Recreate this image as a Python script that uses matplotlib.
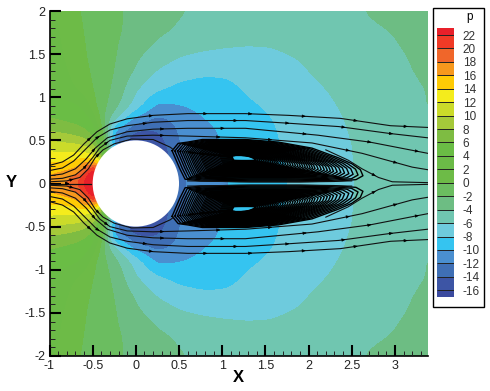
import numpy as np
import matplotlib
matplotlib.use('Agg')
import matplotlib.pyplot as plt
from matplotlib.colors import ListedColormap, BoundaryNorm
from matplotlib.patches import Circle, Rectangle
from matplotlib.ticker import MultipleLocator

plt.rcParams['font.family'] = ['Liberation Sans', 'DejaVu Sans']
plt.rcParams['axes.unicode_minus'] = False

# pressure, upper half only (the field is mirrored in y)
grid_x = [-1, -.85, -.7, -.6, -.5, -.4, -.25, 0, .25, .5, .75, 1, 1.25, 1.5, 1.75, 2, 2.25, 2.5, 2.75, 3, 3.2, 3.4]
grid_y = [0, .15, .3, .45, .6, .75, .9, 1.1, 1.3, 1.5, 1.75, 2]
p_y000 = [17, 18.2, 20, 22.5, 27, 24, 0, -8, -12, -12.5, -11, -10.2, -9.5, -8.8, -8, -7.5, -6.9, -6, -5.9, -5.5, -5.1, -4.7]
p_y015 = [15.3, 15.8, 16.5, 18.5, 24, 22, 0, -10, -14, -12.7, -11, -10.2, -9.4, -8.7, -8, -7.4, -6.8, -6, -5.8, -5.4, -5, -4.6]
p_y030 = [13, 13, 13.4, 13.8, 13, 8, -8, -16, -16, -12.5, -10.8, -10, -9.2, -8.6, -7.9, -7.3, -6.7, -6, -5.7, -5.3, -4.9, -4.5]
p_y045 = [10.8, 10.5, 10.2, 9.5, 8.5, 4, -12, -16, -15.5, -12, -11, -9.9, -9.1, -8.5, -7.8, -7.2, -6.6, -6, -5.6, -5.2, -4.8, -4.4]
p_y060 = [8, 7.6, 7, 6.4, 5.2, 1.5, -11, -14.5, -14.2, -11.8, -10.9, -9.8, -9, -8.4, -7.7, -7.1, -6.5, -5.9, -5.5, -5.1, -4.7, -4.3]
p_y075 = [6, 5.6, 5.2, 4.9, 3.8, -1.2, -5.5, -10.8, -12.5, -11.5, -10.2, -9.3, -8.7, -8.2, -7.6, -7, -6.4, -5.8, -5.4, -5, -4.6, -4.2]
p_y090 = [5, 4.6, 4.3, 3.6, .6, -1.2, -3.2, -7, -10.6, -10.1, -9.5, -8.9, -8.4, -7.9, -7.3, -6.8, -6.2, -5.6, -5.2, -4.8, -4.4, -3.9]
p_y110 = [4, 3, 2, 1, 0, -1, -2.4, -5.8, -7.6, -8.6, -8.9, -8.6, -7.9, -7.3, -6.9, -6.4, -5.9, -5.4, -5, -4.6, -4.3, -3.9]
p_y130 = [3.6, 2.4, 1.3, .5, -.3, -1, -2, -4.3, -6.2, -7.1, -7.6, -7.7, -7.5, -7.2, -6.8, -6, -5.5, -5, -4.7, -4.3, -4.05, -3.6]
p_y150 = [3.2, 2, 1, .2, -.6, -1.1, -1.8, -3.6, -4.8, -5.8, -6.2, -6.4, -6.5, -6.4, -6, -5.6, -5.1, -4.8, -4.5, -4.2, -3.9, -3.4]
p_y175 = [2.8, 1.7, .7, -.1, -.6, -1.1, -1.7, -2.6, -3.7, -4.3, -4.7, -5, -5.2, -5.3, -5.3, -5.1, -4.8, -4.6, -4.3, -3.95, -3.6, -3.2]
p_y200 = [2.5, 1.3, .3, -.3, -.7, -1.1, -1.6, -2.6, -3.1, -3.85, -4.3, -4.6, -4.8, -5, -5, -4.9, -4.7, -4.3, -3.8, -3.4, -3.1, -2.9]

levels = [-16, -14, -12, -10, -8, -6, -4, -2, 0, 2, 4, 6, 8, 10, 12, 14, 16, 18, 20, 22]
band_colors = ['#3b4a9f', '#3d55a5', '#3f6fb5', '#4a8fd0', '#35c4f0', '#6ecbdd', '#70c6b0', '#6dbd83',
               '#6bbd60', '#6dbb47', '#6bbb47', '#6abd45', '#7ebc42', '#a5c93a', '#cbdb2a', '#f4ec1c',
               '#ffcb05', '#f7981d', '#f0662a', '#f03a26', '#e8202a']

# streamlines, upper half (x, y), mirrored for the lower half
line1_x = [-1, -.85, -.72, -.6, -.45, -.3, -.1, .2, .6, 1.27, 1.77, 2.37, 2.95, 3.38]
line1_y = [.21, .25, .33, .46, .6, .69, .75, .79, .81, .81, .79, .755, .67, .65]
line2_x = [-1, -.85, -.72, -.6, -.45, -.3, -.1, .2, .6, 1.27, 1.75, 2.35, 2.94, 3.38]
line2_y = [.15, .18, .26, .38, .53, .62, .67, .71, .73, .73, .70, .66, .58, .53]
line3_x = [-1, -.85, -.7, -.58, -.47, -.33, -.1, .2, .6, 1.27, 2.11, 2.71, 3.38]
line3_y = [.09, .11, .17, .28, .41, .53, .6, .63, .64, .64, .56, .48, .35]
line4_x = [-1, -.85, -.7, -.6, -.5, -.42, -.3, -.1, .2, .6, 1.27, 2.04, 2.62, 3.2, 3.38]
line4_y = [.05, .06, .1, .18, .3, .41, .5, .55, .56, .55, .53, .47, .35, .19, .16]
line5_x = [-1, -.8, -.65, -.55, -.47, -.38, -.25, -.05, .2, .4, .45]
line5_y = [.02, .03, .07, .17, .3, .39, .46, .515, .51, .42, .38]
tail_x = [2.2, 2.46, 2.62, 2.81, 2.97, 3.38]
tail_y = [.39, .27, .17, .07, .02, .01]
front_x = [-1, -.52]
front_y = [0, 0]
core_x = [.6, 1.2, 1.9, 2.5]
core_y = [.03, .02, .02, .03]
lines = [(line1_x, line1_y), (line2_x, line2_y), (line3_x, line3_y), (line4_x, line4_y),
         (line5_x, line5_y), (tail_x, tail_y), (front_x, front_y), (core_x, core_y)]
arrows = [[-.55, .17, .8, 1.32, 1.94, 2.54, 3.12], [-.45, .1, 1.15, 1.75, 2.4, 2.95],
          [-.5, .3, 1, 1.95, 2.7, 3.25], [-.6, -.35, .3, .95, 1.55, 2.45, 3], [-.75, -.45], [2.75], [-.8], []]

# recirculation lobe: outermost loop, then how far each inner turn sits from the focus
wake_x = [.42, .49, .6, .77, 1.27, 1.65, 2.04, 2.34, 2.5, 2.6, 2.63, 2.55, 2.3, 1.9, 1.33, .75, .57, .51, .42]
wake_y = [.38, .465, .48, .51, .51, .48, .41, .30, .23, .16, .09, .045, .025, .02, .02, .03, .05, .17, .38]
wake_focus = (1.21, .30)
wake_turns = [1, .96, .92, .885, .85, .82, .79, .76, .735, .71, .685, .66, .635, .61, .59, .57, .55, .53,
              .51, .49, .47, .45, .43, .41, .39, .37, .35, .33, .31, .295, .28, .265, .25, .235, .22, .205,
              .19, .175, .16, .145, .13, .12]

x_ticks = [-1, -.5, 0, .5, 1, 1.5, 2, 2.5, 3]
x_labels = ['-1', '-0.5', '0', '0.5', '1', '1.5', '2', '2.5', '3']
y_ticks = [-2, -1.5, -1, -.5, 0, .5, 1, 1.5, 2]
y_labels = ['-2', '-1.5', '-1', '-0.5', '0', '0.5', '1', '1.5', '2']

W, H = 490, 391
fig = plt.figure(figsize=(W/100, H/100), dpi=100)
ax = fig.add_axes([49.5/W, (H-356)/H, (427.7-49.5)/W, (356-11)/H])

upper = np.array([p_y000, p_y015, p_y030, p_y045, p_y060, p_y075, p_y090, p_y110, p_y130, p_y150, p_y175, p_y200])
yy = np.array(grid_y)
Y_all = np.concatenate([-yy[:0:-1], yy])
P = np.vstack([upper[:0:-1], upper])

# resample the read grid finer and soften it so the contours do not kink at the grid lines
fine_x = np.arange(-1, 3.41, .02)
fine_y = np.arange(-2, 2.001, .02)
P_f = np.array([np.interp(fine_x, grid_x, row) for row in P])
P_f = np.array([np.interp(fine_y, Y_all, col) for col in P_f.T]).T
for _ in range(3):
    pad = np.pad(P_f, 2, mode='edge')
    k = np.ones(5)/5
    pad = np.apply_along_axis(lambda r: np.convolve(r, k, mode='same'), 0, pad)
    pad = np.apply_along_axis(lambda r: np.convolve(r, k, mode='same'), 1, pad)
    P_f = pad[2:-2, 2:-2]

cmap = ListedColormap(band_colors[1:-1])
cmap.set_under(band_colors[0])
cmap.set_over(band_colors[-1])
ax.contourf(fine_x, fine_y, P_f, levels=levels, cmap=cmap, norm=BoundaryNorm(levels, cmap.N), extend='both', antialiased=False)

# wake loops
fx, fy = wake_focus
wx, wy = np.array(wake_x), np.array(wake_y)
for s in wake_turns:
    lx = fx + s*(wx - fx)
    ly = fy + s*(wy - fy)
    for sign in (1, -1):
        ax.plot(lx, sign*ly, color='k', lw=1.0, solid_joinstyle='round', zorder=3)

for (lx, ly), arr in zip(lines, arrows):
    for sign in (1, -1):
        ly_s = sign*np.array(ly)
        ax.plot(lx, ly_s, color='#111111', lw=.8, zorder=4)
        for a in arr:
            ya = np.interp(a, lx, ly_s)
            yb = np.interp(a+.03, lx, ly_s)
            ax.annotate('', xy=(a+.03, yb), xytext=(a, ya), zorder=5,
                        arrowprops=dict(arrowstyle='-|>,head_length=.45,head_width=.18', color='k', lw=.4, shrinkA=0, shrinkB=0, mutation_scale=5))

ax.add_patch(Circle((0, 0), .5, fc='white', ec='none', zorder=6))

ax.set_xlim(-1, 3.38)
ax.set_ylim(-2, 2)
ax.set_xticks(x_ticks)
ax.set_xticklabels(x_labels)
ax.set_yticks(y_ticks)
ax.set_yticklabels(y_labels)
ax.xaxis.set_minor_locator(MultipleLocator(.1))
ax.yaxis.set_minor_locator(MultipleLocator(.1))
ax.tick_params(which='major', direction='in', length=8, width=1.5, labelsize=9, pad=3, labelcolor='#222222')
ax.tick_params(which='minor', direction='in', length=3.5, width=.7, color='#222222')
ax.spines['top'].set_visible(False)
ax.spines['right'].set_visible(False)
ax.spines['left'].set_linewidth(1.2)
ax.spines['bottom'].set_linewidth(1.2)
ax.set_axisbelow(False)

fig.text(11/W, 1-183/H, 'Y', fontsize=12, fontweight='bold', ha='center', va='center')
fig.text(238/W, 1-378/H, 'X', fontsize=12, fontweight='bold', ha='center', va='center')

# legend box
fig.add_artist(Rectangle((433.3/W, 1-306.7/H), (483.7-433.3)/W, (306.7-8)/H, transform=fig.transFigure, fc='white', ec='k', lw=1, zorder=-1))
cax = fig.add_axes([437.3/W, 1-297/H, 17/W, (297-28.3)/H])
edges = [-17] + levels + [23]
for i, c in enumerate(band_colors):
    cax.bar(0, edges[i+1]-edges[i], bottom=edges[i], width=1, color=c, edgecolor='none')
cax.hlines(levels, -.5, .5, color='#222222', lw=.7)
cax.set_xlim(-.5, .5)
cax.set_ylim(-17, 23)
cax.set_xticks([])
cax.set_yticks(levels)
cax.yaxis.tick_right()
cax.tick_params(length=0, pad=6, labelsize=8.5, labelcolor='#333333')
for sp in cax.spines.values():
    sp.set_visible(False)
fig.text(470/W, 1-17/H, 'p', fontsize=8.5, ha='center', va='center')

fig.savefig('out.png', dpi=100)
